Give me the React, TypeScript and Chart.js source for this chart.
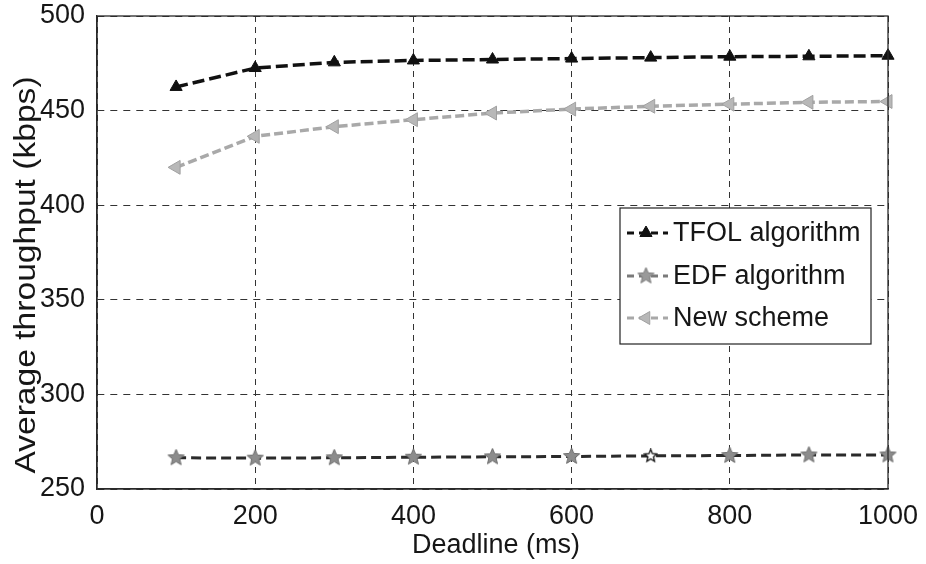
import React, { useEffect, useRef } from 'react';
import { Chart, registerables } from 'chart.js';

Chart.register(...registerables);

// ---- data ----
const deadlines = [100, 200, 300, 400, 500, 600, 700, 800, 900, 1000];
const tfolValues = [462.5, 472.5, 475.5, 476.5, 477, 477.5, 478, 478.5, 478.7, 479];
const edfValues = [266.5, 266.3, 266.5, 266.8, 267, 267.2, 267.5, 267.7, 268, 268];
const newSchemeValues = [420, 436.4, 441.5, 445.2, 448.7, 450.8, 452.3, 453.4, 454.4, 454.8];
const seriesNames = ['TFOL algorithm', 'EDF algorithm', 'New scheme'];
const xTickValues = [0, 200, 400, 600, 800, 1000];
const yTickValues = [250, 300, 350, 400, 450, 500];
const xTitle = 'Deadline (ms)';
const yTitle = 'Average throughput (kbps)';

const FONT = "'Liberation Sans', Arial, Helvetica, sans-serif";
const TEXT = '#161616';

function makeStar(size: number, fill: string, stroke: string, lw: number) {
  const c = document.createElement('canvas');
  c.width = size;
  c.height = size;
  const ctx = c.getContext('2d')!;
  const cx = size / 2, cy = size / 2;
  const R = size / 2 - 1, r = R * 0.45;
  ctx.beginPath();
  for (let i = 0; i < 10; i++) {
    const ang = -Math.PI / 2 + (i * Math.PI) / 5;
    const rad = i % 2 === 0 ? R : r;
    const px = cx + Math.cos(ang) * rad;
    const py = cy + Math.sin(ang) * rad;
    if (i === 0) ctx.moveTo(px, py);
    else ctx.lineTo(px, py);
  }
  ctx.closePath();
  ctx.fillStyle = fill;
  ctx.fill();
  ctx.lineWidth = lw;
  ctx.strokeStyle = stroke;
  ctx.stroke();
  return c;
}

function drawTriangle(ctx: CanvasRenderingContext2D, x: number, y: number, r: number, rotDeg: number, fill: string, stroke: string) {
  const rad = (rotDeg * Math.PI) / 180;
  ctx.beginPath();
  for (let i = 0; i < 3; i++) {
    const a = rad + (i * 2 * Math.PI) / 3;
    const px = x + Math.sin(a) * r;
    const py = y - Math.cos(a) * r;
    if (i === 0) ctx.moveTo(px, py);
    else ctx.lineTo(px, py);
  }
  ctx.closePath();
  ctx.fillStyle = fill;
  ctx.fill();
  ctx.strokeStyle = stroke;
  ctx.lineWidth = 1;
  ctx.stroke();
}

export default function App() {
  const ref = useRef<HTMLCanvasElement | null>(null);

  useEffect(() => {
    const canvas = ref.current;
    if (!canvas) return;
    const starGray = makeStar(19, '#8c8c8c', '#6e6e6e', 1);
    const starHollow = makeStar(15, '#ffffff', '#111111', 1.3);
    const edfStyles = deadlines.map((d) => (d === 700 ? starHollow : starGray));
    const legendStar = makeStar(19, '#9a9a9a', '#7a7a7a', 1);

    const framePlugin = {
      id: 'frameAndTexts',
      afterDraw(chart: any) {
        const { ctx, chartArea } = chart;
        const { left, right, top, bottom } = chartArea;
        ctx.save();
        // box
        ctx.strokeStyle = '#2a2a2a';
        ctx.lineWidth = 1.3;
        ctx.setLineDash([]);
        ctx.strokeRect(left, top, right - left, bottom - top);

        // y title
        ctx.save();
        ctx.translate(27, 275);
        ctx.rotate(-Math.PI / 2);
        ctx.scale(1.12, 1);
        ctx.font = `30px ${FONT}`;
        ctx.fillStyle = TEXT;
        ctx.textAlign = 'center';
        ctx.textBaseline = 'middle';
        ctx.fillText(yTitle, 0, 0);
        ctx.restore();

        // x title
        ctx.font = `27px ${FONT}`;
        ctx.fillStyle = TEXT;
        ctx.textAlign = 'center';
        ctx.textBaseline = 'alphabetic';
        ctx.fillText(xTitle, 496, 553);

        // legend
        const bx = 620, by = 208, bw = 251, bh = 136;
        ctx.fillStyle = '#ffffff';
        ctx.fillRect(bx, by, bw, bh);
        ctx.strokeStyle = '#222';
        ctx.lineWidth = 1.2;
        ctx.strokeRect(bx, by, bw, bh);
        const rows = [233, 276, 318];
        const lineCols = ['#111111', '#7a7a7a', '#a8a8a8'];
        rows.forEach((ry, i) => {
          ctx.save();
          ctx.strokeStyle = lineCols[i];
          ctx.lineWidth = 3;
          ctx.setLineDash([7, 5]);
          ctx.beginPath();
          ctx.moveTo(627, ry);
          ctx.lineTo(668, ry);
          ctx.stroke();
          ctx.restore();
          if (i === 0) drawTriangle(ctx, 646, ry, 7, 0, '#111', '#111');
          if (i === 1) ctx.drawImage(legendStar, 646 - 9.5, ry - 9.5);
          if (i === 2) drawTriangle(ctx, 646, ry, 7.5, -90, '#b8b8b8', '#a0a0a0');
          ctx.font = `27px ${FONT}`;
          ctx.fillStyle = TEXT;
          ctx.textAlign = 'left';
          ctx.textBaseline = 'middle';
          ctx.fillText(seriesNames[i], 673, ry + 1);
        });
        ctx.restore();
      },
    };

    const chart = new Chart(canvas, {
      type: 'line',
      data: {
        labels: deadlines,
        datasets: [
          {
            label: seriesNames[0],
            data: deadlines.map((d, i) => ({ x: d, y: tfolValues[i] })),
            borderColor: '#111111',
            borderWidth: 3.5,
            borderDash: [12, 5],
            pointStyle: 'triangle',
            pointRadius: 7,
            pointBackgroundColor: '#111111',
            pointBorderColor: '#111111',
            pointBorderWidth: 1,
            tension: 0,
            clip: 12,
          },
          {
            label: seriesNames[1],
            data: deadlines.map((d, i) => ({ x: d, y: edfValues[i] })),
            borderColor: '#2a2a2a',
            borderWidth: 3,
            borderDash: [10, 5],
            pointStyle: edfStyles as any,
            pointRadius: 9,
            tension: 0,
            clip: 12,
          },
          {
            label: seriesNames[2],
            data: deadlines.map((d, i) => ({ x: d, y: newSchemeValues[i] })),
            borderColor: '#a9a9a9',
            borderWidth: 3.5,
            borderDash: [9, 4],
            pointStyle: 'triangle',
            pointRotation: -90,
            pointRadius: 8,
            pointBackgroundColor: '#b8b8b8',
            pointBorderColor: '#a0a0a0',
            pointBorderWidth: 1,
            tension: 0,
            clip: 12,
          },
        ],
      },
      options: {
        responsive: false,
        animation: false,
        layout: { padding: { top: 16, right: 38, left: 0, bottom: 0 } },
        plugins: { legend: { display: false }, tooltip: { enabled: false } },
        scales: {
          x: {
            type: 'linear',
            min: 0,
            max: 1000,
            afterBuildTicks: (scale: any) => {
              scale.ticks = xTickValues.map((v) => ({ value: v }));
            },
            afterFit: (scale: any) => {
              scale.height = 75;
              scale.paddingLeft = 0;
              scale.paddingRight = 0;
            },
            grid: { color: '#333', lineWidth: 1, drawTicks: false },
            border: { display: true, color: '#2a2a2a', width: 1.3, dash: [6, 5] },
            ticks: {
              padding: 11,
              maxRotation: 0,
              autoSkip: false,
              color: TEXT,
              font: { family: FONT, size: 27 },
              callback: (v: any) => String(v),
            },
          },
          y: {
            type: 'linear',
            min: 250,
            max: 500,
            afterBuildTicks: (scale: any) => {
              scale.ticks = yTickValues.map((v) => ({ value: v }));
            },
            afterFit: (scale: any) => {
              scale.width = 97;
              scale.paddingTop = 0;
              scale.paddingBottom = 0;
            },
            grid: { color: '#333', lineWidth: 1, drawTicks: false },
            border: { display: true, color: '#2a2a2a', width: 1.3, dash: [7, 6] },
            ticks: {
              padding: 12,
              autoSkip: false,
              color: TEXT,
              font: { family: FONT, size: 27 },
              callback: (v: any) => String(v),
            },
          },
        },
      } as any,
      plugins: [framePlugin],
    });
    return () => chart.destroy();
  }, []);

  return (
    <div style={{ position: 'absolute', left: 0, top: 0, width: 926, height: 564, background: '#fff' }}>
      <canvas ref={ref} width={926} height={564} style={{ display: 'block', width: 926, height: 564 }} />
    </div>
  );
}
